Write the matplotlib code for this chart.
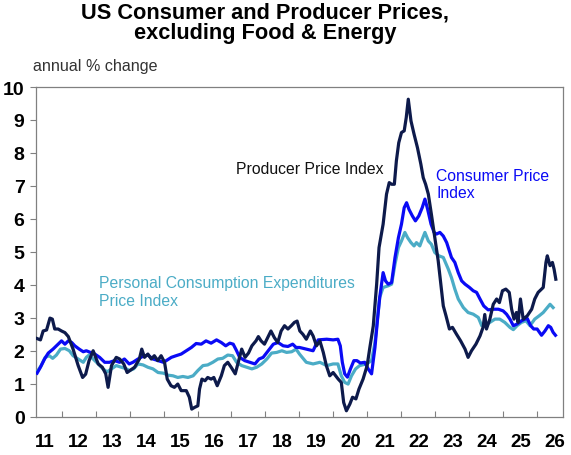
import numpy as np
import matplotlib
matplotlib.use('Agg')
import matplotlib.pyplot as plt

plt.rcParams['font.family'] = ['Liberation Sans', 'DejaVu Sans']

# Producer Price Index ex food & energy, annual % change (decimal year, value)
ppi_x = [2011.28, 2011.38, 2011.46, 2011.56, 2011.66, 2011.73, 2011.80, 2011.90, 2012.00, 2012.10,
         2012.20, 2012.34, 2012.49, 2012.62, 2012.71, 2012.81, 2012.93, 2013.08, 2013.20, 2013.30,
         2013.37, 2013.47, 2013.61, 2013.71, 2013.83, 2013.93, 2014.15, 2014.29, 2014.36, 2014.44,
         2014.54, 2014.64, 2014.73, 2014.83, 2014.93, 2015.03, 2015.11, 2015.22, 2015.32, 2015.42,
         2015.52, 2015.67, 2015.76, 2015.83, 2015.91, 2016.01, 2016.06, 2016.13, 2016.22, 2016.30,
         2016.40, 2016.48, 2016.58, 2016.70, 2016.79, 2016.89, 2016.99, 2017.11, 2017.20, 2017.30,
         2017.40, 2017.50, 2017.60, 2017.72, 2017.79, 2017.87, 2017.97, 2018.09, 2018.16, 2018.26,
         2018.36, 2018.46, 2018.56, 2018.66, 2018.76, 2018.85, 2018.93, 2019.01, 2019.10, 2019.20,
         2019.32, 2019.40, 2019.50, 2019.60, 2019.70, 2019.79, 2019.89, 2019.99, 2020.14, 2020.23,
         2020.30, 2020.38, 2020.48, 2020.56, 2020.66, 2020.75, 2020.87, 2020.99, 2021.07, 2021.17,
         2021.27, 2021.34, 2021.46, 2021.56, 2021.64, 2021.71, 2021.79, 2021.85, 2021.92, 2022.00,
         2022.08, 2022.14, 2022.20, 2022.28, 2022.37, 2022.47, 2022.57, 2022.64, 2022.71, 2022.79,
         2022.88, 2022.98, 2023.08, 2023.16, 2023.23, 2023.31, 2023.41, 2023.50, 2023.62, 2023.74,
         2023.87, 2023.96, 2024.06, 2024.19, 2024.31, 2024.40, 2024.45, 2024.50, 2024.60, 2024.70,
         2024.80, 2024.88, 2024.97, 2025.07, 2025.17, 2025.24, 2025.31, 2025.38, 2025.43, 2025.50,
         2025.58, 2025.70, 2025.83, 2025.92, 2026.02, 2026.17, 2026.25, 2026.29, 2026.37, 2026.44,
         2026.49, 2026.54]
ppi_y = [2.37, 2.33, 2.60, 2.63, 2.99, 2.96, 2.66, 2.66, 2.60, 2.55,
         2.43, 2.05, 1.55, 1.19, 1.29, 1.70, 2.00, 1.60, 1.50, 1.30,
         0.89, 1.55, 1.80, 1.75, 1.60, 1.34, 1.50, 1.75, 2.05, 1.80,
         1.90, 1.75, 1.85, 1.70, 1.85, 1.65, 1.14, 0.94, 0.89, 0.99,
         0.79, 0.79, 0.59, 0.23, 0.28, 0.33, 0.84, 1.14, 1.09, 1.19,
         1.14, 1.19, 0.94, 1.24, 1.55, 1.65, 1.50, 1.30, 1.65, 2.05,
         1.80, 1.93, 2.15, 2.30, 2.43, 2.30, 2.20, 2.45, 2.60, 2.40,
         2.25, 2.60, 2.76, 2.66, 2.76, 2.86, 2.90, 2.60, 2.50, 2.35,
         2.60, 2.45, 2.15, 2.30, 1.95, 1.55, 1.24, 1.34, 1.14, 1.04,
         0.43, 0.18, 0.38, 0.59, 0.54, 0.84, 1.14, 1.55, 2.10, 2.75,
         4.02, 5.13, 5.84, 6.75, 7.10, 7.05, 7.05, 7.76, 8.31, 8.62,
         8.67, 9.07, 9.63, 8.97, 8.57, 8.16, 7.66, 7.25, 7.05, 6.75,
         6.14, 5.43, 4.73, 4.00, 3.36, 3.06, 2.66, 2.71, 2.50, 2.30,
         2.05, 1.80, 2.00, 2.20, 2.45, 2.71, 3.10, 2.66, 2.96, 3.41,
         3.57, 3.46, 3.82, 3.87, 3.77, 3.26, 2.96, 3.16, 2.86, 3.57,
         2.96, 3.06, 3.26, 3.57, 3.77, 3.92, 4.68, 4.88, 4.58, 4.68,
         4.47, 4.17]

# Consumer Price Index ex food & energy
cpi_x = [2011.28, 2011.38, 2011.50, 2011.61, 2011.75, 2011.90, 2012.00, 2012.10, 2012.20, 2012.30,
         2012.39, 2012.52, 2012.64, 2012.73, 2012.85, 2012.98, 2013.12, 2013.27, 2013.41, 2013.56,
         2013.71, 2013.85, 2013.99, 2014.10, 2014.25, 2014.39, 2014.54, 2014.69, 2014.84, 2015.00,
         2015.08, 2015.23, 2015.37, 2015.52, 2015.67, 2015.82, 2015.96, 2016.11, 2016.25, 2016.40,
         2016.56, 2016.70, 2016.83, 2016.95, 2017.05, 2017.15, 2017.24, 2017.39, 2017.54, 2017.69,
         2017.81, 2017.93, 2018.08, 2018.23, 2018.37, 2018.52, 2018.66, 2018.80, 2018.90, 2019.00,
         2019.20, 2019.40, 2019.55, 2019.80, 2019.99, 2020.13, 2020.20, 2020.26, 2020.33, 2020.41,
         2020.50, 2020.60, 2020.69, 2020.79, 2020.92, 2021.02, 2021.12, 2021.22, 2021.30, 2021.36,
         2021.46, 2021.53, 2021.61, 2021.71, 2021.81, 2021.91, 2022.00, 2022.08, 2022.15, 2022.22,
         2022.32, 2022.41, 2022.51, 2022.61, 2022.69, 2022.77, 2022.87, 2022.96, 2023.03, 2023.13,
         2023.23, 2023.33, 2023.47, 2023.57, 2023.67, 2023.77, 2023.87, 2024.00, 2024.11, 2024.21,
         2024.31, 2024.42, 2024.55, 2024.70, 2024.85, 2024.99, 2025.09, 2025.19, 2025.29, 2025.40,
         2025.53, 2025.63, 2025.70, 2025.80, 2025.89, 2025.99, 2026.12, 2026.22, 2026.32, 2026.39,
         2026.46, 2026.53]
cpi_y = [1.32, 1.50, 1.75, 1.93, 2.05, 2.20, 2.30, 2.20, 2.30, 2.25,
         2.15, 2.05, 1.97, 2.00, 1.95, 1.90, 1.80, 1.65, 1.65, 1.70,
         1.65, 1.75, 1.60, 1.65, 1.75, 1.83, 1.87, 1.75, 1.70, 1.65,
         1.70, 1.80, 1.85, 1.90, 2.00, 2.10, 2.22, 2.20, 2.30, 2.23,
         2.33, 2.25, 2.15, 2.23, 2.20, 2.00, 1.80, 1.70, 1.65, 1.60,
         1.75, 1.80, 2.00, 2.20, 2.25, 2.15, 2.13, 2.20, 2.10, 2.10,
         2.05, 2.00, 2.33, 2.35, 2.33, 2.35, 2.15, 1.65, 1.30, 1.20,
         1.45, 1.70, 1.70, 1.63, 1.65, 1.45, 1.30, 2.10, 3.00, 3.62,
         4.37, 4.12, 4.02, 4.07, 4.83, 5.43, 5.84, 6.34, 6.49, 6.29,
         6.09, 5.94, 6.09, 6.34, 6.60, 6.29, 5.84, 5.59, 5.54, 5.59,
         5.48, 5.28, 4.83, 4.68, 4.37, 4.12, 4.02, 3.92, 3.82, 3.77,
         3.57, 3.36, 3.24, 3.26, 3.26, 3.21, 3.11, 2.96, 2.76, 2.81,
         2.91, 2.96, 2.98, 2.76, 2.66, 2.66, 2.47, 2.60, 2.76, 2.71,
         2.56, 2.47]

# Personal Consumption Expenditures price index ex food & energy
pce_x = [2011.28, 2011.40, 2011.52, 2011.64, 2011.74, 2011.85, 2011.97, 2012.10, 2012.23, 2012.34,
         2012.49, 2012.64, 2012.73, 2012.81, 2012.93, 2013.08, 2013.22, 2013.34, 2013.47, 2013.61,
         2013.76, 2013.89, 2014.00, 2014.12, 2014.25, 2014.40, 2014.54, 2014.69, 2014.84, 2015.00,
         2015.13, 2015.28, 2015.42, 2015.57, 2015.72, 2015.87, 2016.01, 2016.16, 2016.30, 2016.45,
         2016.60, 2016.74, 2016.89, 2017.03, 2017.15, 2017.30, 2017.45, 2017.60, 2017.74, 2017.89,
         2018.04, 2018.18, 2018.33, 2018.48, 2018.62, 2018.77, 2018.90, 2019.00, 2019.20, 2019.40,
         2019.60, 2019.80, 2019.99, 2020.13, 2020.23, 2020.33, 2020.43, 2020.53, 2020.65, 2020.77,
         2020.97, 2021.12, 2021.22, 2021.36, 2021.46, 2021.61, 2021.71, 2021.81, 2021.91, 2022.00,
         2022.10, 2022.18, 2022.28, 2022.37, 2022.44, 2022.54, 2022.61, 2022.69, 2022.79, 2022.88,
         2022.98, 2023.10, 2023.23, 2023.38, 2023.47, 2023.57, 2023.67, 2023.82, 2023.96, 2024.11,
         2024.26, 2024.36, 2024.45, 2024.60, 2024.75, 2024.89, 2025.04, 2025.19, 2025.29, 2025.40,
         2025.53, 2025.66, 2025.78, 2025.92, 2026.05, 2026.17, 2026.29, 2026.37, 2026.46]
pce_y = [1.36, 1.55, 1.80, 1.85, 1.77, 1.87, 2.05, 2.07, 2.00, 1.85,
         1.75, 1.65, 1.80, 1.87, 1.75, 1.60, 1.45, 1.36, 1.45, 1.55,
         1.50, 1.46, 1.40, 1.45, 1.60, 1.57, 1.50, 1.45, 1.34, 1.32,
         1.26, 1.24, 1.19, 1.22, 1.19, 1.24, 1.40, 1.55, 1.57, 1.65,
         1.75, 1.77, 1.87, 1.85, 1.65, 1.55, 1.50, 1.45, 1.50, 1.60,
         1.75, 1.93, 1.95, 2.00, 1.95, 1.97, 2.05, 1.90, 1.65, 1.60,
         1.65, 1.55, 1.60, 1.60, 1.24, 1.04, 0.99, 1.24, 1.45, 1.55,
         1.60, 1.70, 2.25, 3.62, 3.92, 3.97, 4.02, 4.63, 5.13, 5.33,
         5.59, 5.43, 5.28, 5.18, 5.28, 5.18, 5.38, 5.59, 5.33, 5.23,
         4.98, 4.88, 4.83, 4.47, 4.22, 3.87, 3.57, 3.31, 3.16, 3.11,
         3.01, 2.76, 2.76, 2.86, 2.96, 2.96, 2.86, 2.71, 2.64, 2.76,
         2.86, 2.91, 2.76, 2.96, 3.06, 3.16, 3.31, 3.41, 3.31]

years = list(range(2011, 2027))
year_labels = [str(y)[2:] for y in years]

ppi_col = '#0D1A4B'
cpi_col = '#0A0AF5'
pce_col = '#4BACC6'

fig = plt.figure(figsize=(5.71, 4.56), dpi=100)
ax = fig.add_axes([0.0625, 0.084, 0.924, 0.723])

ax.plot(pce_x, pce_y, color=pce_col, lw=2.3, zorder=3)
ax.plot(cpi_x, cpi_y, color=cpi_col, lw=2.3, zorder=4)
ax.plot(ppi_x, ppi_y, color=ppi_col, lw=2.3, zorder=5)

ax.set_xlim(2011.24, 2026.76)
ax.set_ylim(0, 10)
ax.set_yticks(range(0, 11))
ax.tick_params(axis='y', direction='out', length=4, width=0.8, color='#808080',
               labelsize=14, pad=4)
for t in ax.get_yticklabels():
    t.set_fontweight('bold')

# year boundaries get tick marks, labels sit mid-year
ax.set_xticks(years[1:])
ax.set_xticklabels([])
ax.set_xticks([y + 0.5 for y in years], minor=True)
ax.set_xticklabels(year_labels, minor=True, fontsize=13.5, fontweight='bold')
ax.tick_params(axis='x', which='major', direction='in', length=4, width=0.8, color='#808080')
ax.tick_params(axis='x', which='minor', length=0, pad=12)

for s in ax.spines.values():
    s.set_color('#808080')
    s.set_linewidth(0.9)

ax.text(2017.13, 7.53, 'Producer Price Index', color='#111111', fontsize=11.3, va='center')
ax.text(2023.03, 7.05, 'Consumer Price\nIndex', color=cpi_col, fontsize=11.3, va='center')
ax.text(2013.1, 3.8, 'Personal Consumption Expenditures\nPrice Index', color=pce_col,
        fontsize=11.3, va='center')

fig.text(265 / 571, 1 - 13 / 456, 'US Consumer and Producer Prices,', ha='center', va='center',
         fontsize=15.7, fontweight='bold')
fig.text(265 / 571, 1 - 33 / 456, 'excluding Food & Energy', ha='center', va='center',
         fontsize=15.7, fontweight='bold')
fig.text(33 / 571, 1 - 67 / 456, 'annual % change', ha='left', va='center', fontsize=11.6,
         color='#333333')

fig.savefig('out.png', dpi=100)
